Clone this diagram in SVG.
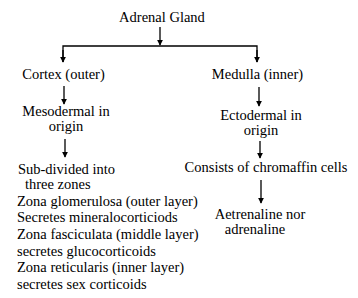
<svg xmlns="http://www.w3.org/2000/svg" width="358" height="298" viewBox="0 0 358 298">
<style>
text{font-family:'Liberation Serif','Times New Roman',serif;font-size:14.5px;fill:#000}
.c{text-anchor:middle}
.ln{stroke:#000;stroke-width:1.3;fill:none}
</style>
<defs>
<marker id="ah" viewBox="0 0 8 8" refX="7" refY="4" markerWidth="6" markerHeight="6" markerUnits="userSpaceOnUse" orient="auto">
<path d="M0,0 L8,4 L0,8 z" fill="#000"/>
</marker>
</defs>
<rect width="358" height="298" fill="#fff"/>
<g id="connectors">
<line class="ln" x1="160" y1="27" x2="160" y2="45" marker-end="url(#ah)"/>
<polyline class="ln" points="63,62 63,46 257,46 257,62"/>
<line class="ln" x1="63" y1="50" x2="63" y2="62" marker-end="url(#ah)"/>
<line class="ln" x1="257" y1="50" x2="257" y2="62" marker-end="url(#ah)"/>
<line class="ln" x1="64" y1="86" x2="64" y2="104" marker-end="url(#ah)"/>
<line class="ln" x1="259" y1="87" x2="259" y2="106" marker-end="url(#ah)"/>
<line class="ln" x1="65" y1="139" x2="65" y2="157" marker-end="url(#ah)"/>
<line class="ln" x1="260" y1="141" x2="260" y2="158" marker-end="url(#ah)"/>
<line class="ln" x1="261" y1="180" x2="261" y2="203" marker-end="url(#ah)"/>
</g>
<g id="adrenal"><text class="c" x="162" y="22">Adrenal Gland</text></g>
<g id="cortex"><text class="c" x="63.5" y="79">Cortex (outer)</text></g>
<g id="medulla"><text class="c" x="257.5" y="79">Medulla (inner)</text></g>
<g id="mesodermal"><text class="c" x="66" y="116">Mesodermal in</text><text class="c" x="66" y="131">origin</text></g>
<g id="ectodermal"><text class="c" x="261" y="120">Ectodermal in</text><text class="c" x="261" y="135">origin</text></g>
<g id="cortex-zones">
<text class="c" x="66.5" y="174">Sub-divided into</text>
<text x="25" y="189">three zones</text>
<text x="17" y="205.7">Zona glomerulosa (outer layer)</text>
<text x="17" y="222.3">Secretes mineralocorticiods</text>
<text x="17" y="239">Zona fasciculata (middle layer)</text>
<text x="17" y="255.7">secretes glucocorticoids</text>
<text x="17" y="272.3">Zona reticularis (inner layer)</text>
<text x="17" y="289">secretes sex corticoids</text>
</g>
<g id="chromaffin"><text class="c" x="266" y="172">Consists of chromaffin cells</text></g>
<g id="aetrenaline"><text class="c" x="260" y="219">Aetrenaline nor</text><text class="c" x="255" y="234">adrenaline</text></g>
</svg>
